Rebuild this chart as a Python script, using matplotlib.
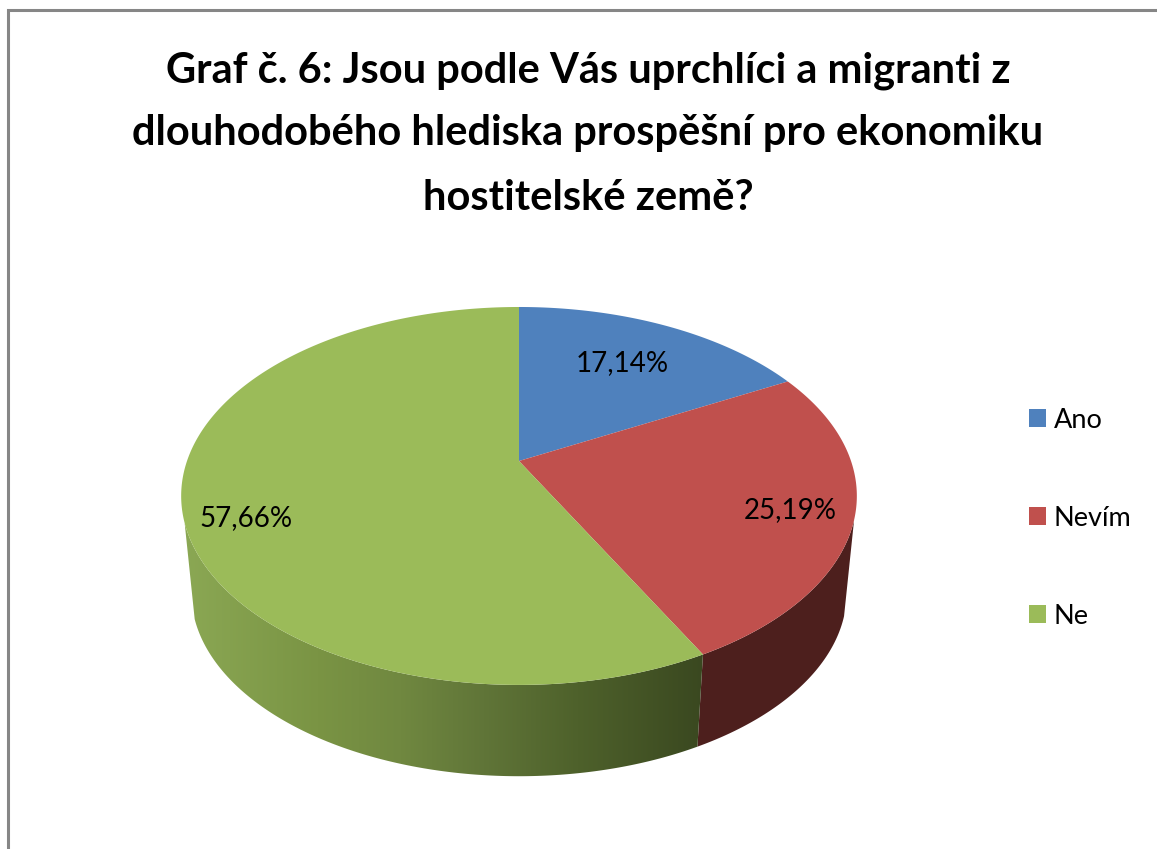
# -*- coding: UTF-8 -*-
import numpy as np
import matplotlib
matplotlib.use("Agg")
import matplotlib.pyplot as plt
from matplotlib.colors import LinearSegmentedColormap
from matplotlib.patches import Polygon, Rectangle

labels = ["Ano", "Nevím", "Ne"]
values = [17.14, 25.19, 57.66]
value_labels = ["17,14%", "25,19%", "57,66%"]
colors = ["#4f81bd", "#c0504d", "#9bbb59"]
title_lines = ["Graf č. 6: Jsou podle Vás uprchlíci a migranti z",
               "dlouhodobého hlediska prospěšní pro ekonomiku",
               "hostitelské země?"]

plt.rcParams['font.family'] = ['Lato', 'DejaVu Sans']

fig = plt.figure(figsize=(11.57, 8.49), dpi=100)
ax = fig.add_axes([0, 0, 1, 1])
ax.set_xlim(0, 1157)
ax.set_ylim(849, 0)
ax.axis("off")

# perspective of the pie disc, worked out from the picture
cx, cy = 519, 461
bx, ay, k = 332, 182.5, 0.185
scale_low, drop = 0.97, 98


def top_edge(theta):
    u, v = np.sin(theta), np.cos(theta)
    w = 1 + k * v
    return cx + bx * u / w, cy - ay * v / w


def low_edge(theta):
    x, y = top_edge(theta)
    return cx + (x - cx) * scale_low, cy + (y - cy) * scale_low + drop


def rim_angle(start, stop, y_target):
    # angle where the wall silhouette leaves the rim
    theta = np.linspace(start, stop, 2000)
    return theta[np.argmin(np.abs(top_edge(theta)[1] - y_target))]


edges = np.concatenate([[0], np.cumsum(values) / np.sum(values) * 2 * np.pi])

# side wall
wall_red = np.linspace(rim_angle(np.pi * 0.5, np.pi * 0.8, 520), edges[2], 200)
wall_green = np.linspace(edges[2], rim_angle(np.pi * 1.2, np.pi * 1.7, 523), 300)
xt, yt = top_edge(wall_red)
xl, yl = low_edge(wall_red)
ax.fill(np.r_[xt, xl[::-1]], np.r_[yt, yl[::-1]], color="#4d1f1d", lw=0)

xt, yt = top_edge(wall_green)
xl, yl = low_edge(wall_green)
green_wall = Polygon(np.c_[np.r_[xt, xl[::-1]], np.r_[yt, yl[::-1]]], closed=True,
                     transform=ax.transData, fc="none", ec="none")
ax.add_patch(green_wall)
shade = LinearSegmentedColormap.from_list("shade", [
    (0.00, "#8ba854"), (0.26, "#7a9444"), (0.42, "#708840"),
    (0.58, "#607538"), (0.76, "#4e612b"), (1.00, "#3a4820")])
im = ax.imshow(np.linspace(0, 1, 256)[None, :], cmap=shade, aspect="auto",
               extent=(181, 704, 800, 450), zorder=1)
im.set_clip_path(green_wall)
ax.set_xlim(0, 1157)
ax.set_ylim(849, 0)

# top of the pie
for i in range(len(values)):
    theta = np.linspace(edges[i], edges[i + 1], 300)
    x, y = top_edge(theta)
    ax.fill(np.r_[cx, x], np.r_[cy, y], color=colors[i], lw=0, zorder=2)

label_pos = [(622, 363), (790, 510), (246, 518)]
for txt, (tx, ty) in zip(value_labels, label_pos):
    ax.text(tx, ty, txt, fontsize=20, ha="center", va="center", color="black", zorder=3)

# legend
legend_y = [418, 516, 614]
for name, col, ly in zip(labels, colors, legend_y):
    ax.add_patch(Rectangle((1029, ly - 9), 17, 18, fc=col, ec="none"))
    ax.text(1054, ly + 2, name, fontsize=19.5, ha="left", va="center", color="black")

# title
title_y = [71, 133, 198]
for line, ty in zip(title_lines, title_y):
    ax.text(588, ty, line, fontsize=30, fontweight="bold", ha="center", va="center", color="black")

# grey frame, cut off on the right and at the bottom
ax.plot([8, 8, 1157], [849, 10, 10], color="#868686", lw=2.2, solid_joinstyle="miter")

plt.savefig("out.png", dpi=100)
